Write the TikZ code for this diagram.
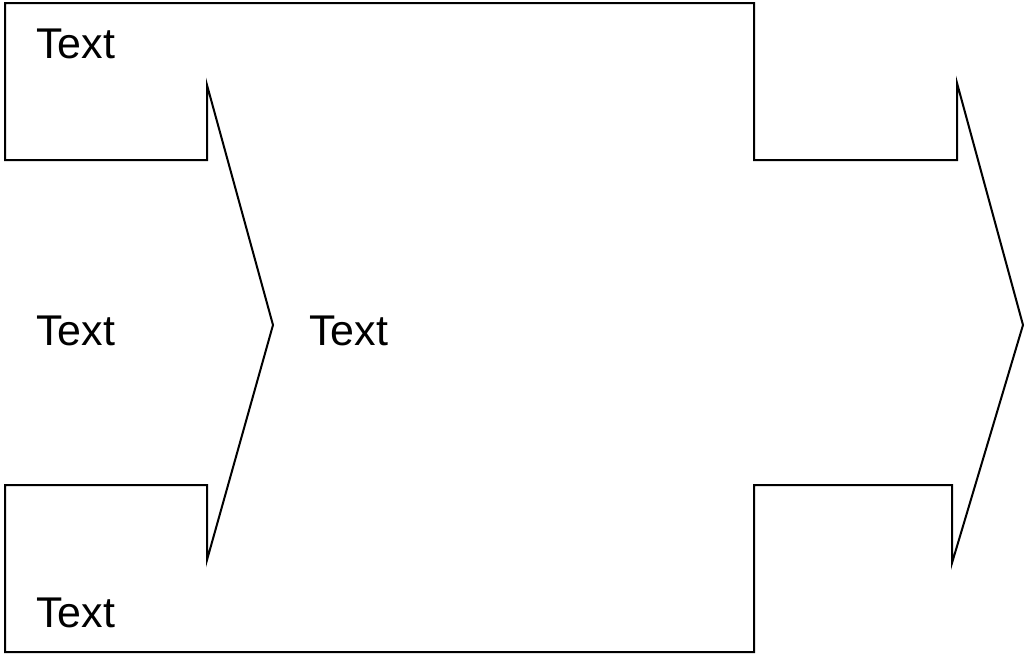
\documentclass[tikz,border=0pt]{standalone}
\usepackage{fontspec}
\setmainfont{Liberation Sans}
\begin{document}
\begin{tikzpicture}[x=1pt,y=-1pt,
  outline/.style={draw=black,line width=2pt,line join=miter},
  lbl/.style={anchor=base west,inner sep=0pt,font=\fontsize{43}{50}\selectfont}]
\useasboundingbox (0,0) rectangle (1025,654);
\draw[outline] (5,3) -- (754,3) -- (754,160) -- (957,160) -- (957,83)
  -- (1023,325) -- (952,563) -- (952,485) -- (754,485) -- (754,652)
  -- (5,652) -- (5,485) -- (207,485) -- (207,560) -- (273,325)
  -- (207,85) -- (207,160) -- (5,160) -- cycle;
\node[lbl] (t1) at (36,58) {Text};
\node[lbl] (t2) at (36,345) {Text};
\node[lbl] (t3) at (309,345) {Text};
\node[lbl] (t4) at (36,627) {Text};
\end{tikzpicture}
\end{document}
